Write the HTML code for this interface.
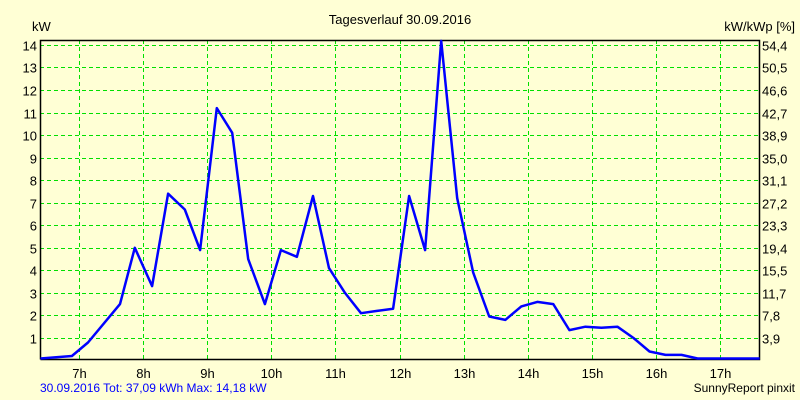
<!DOCTYPE html>
<html><head><meta charset="utf-8"><style>
body{margin:0;background:#ffffd5;}
svg{display:block;font-family:"Liberation Sans",sans-serif;}
</style></head><body>
<svg id="chart" width="800" height="400">
<rect x="0" y="0" width="800" height="400" fill="#ffffd5"/>
<text x="400" y="24" font-size="13" text-anchor="middle">Tagesverlauf 30.09.2016</text>
<text x="32" y="31" font-size="13">kW</text>
<text x="795" y="31" font-size="13" text-anchor="end">kW/kWp [%]</text>
<g id="grid"></g><g id="axes"></g><g id="series"></g>
<text x="40" y="392" font-size="12" fill="#0000ff">30.09.2016 Tot: 37,09 kWh Max: 14,18 kW</text>
<text x="795" y="392" font-size="12" text-anchor="end">SunnyReport pinxit</text>
</svg>
<script>
const times=[6.4,6.89,7.14,7.64,7.87,8.14,8.39,8.65,8.89,9.15,9.39,9.64,9.9,10.15,10.4,10.65,10.9,11.15,11.4,11.65,11.9,12.15,12.4,12.65,12.9,13.15,13.4,13.65,13.9,14.15,14.4,14.65,14.9,15.15,15.4,15.65,15.9,16.15,16.4,16.65,16.9,17.62];
const power=[0,0.2,0.8,2.5,5,3.3,7.4,6.7,4.9,11.2,10.1,4.5,2.5,4.9,4.6,7.3,4.1,3,2.1,2.2,2.3,7.3,4.9,14.18,7.2,3.9,1.95,1.8,2.4,2.6,2.5,1.35,1.5,1.45,1.5,1,0.4,0.25,0.25,0.05,0,0];
const leftTicks=[1,2,3,4,5,6,7,8,9,10,11,12,13,14];
const rightTickLabels=["3,9","7,8","11,7","15,5","19,4","23,3","27,2","31,1","35,0","38,9","42,7","46,6","50,5","54,4"];
const hourTicks=[7,8,9,10,11,12,13,14,15,16,17];
const NS="http://www.w3.org/2000/svg";
const L=40,R=759,T=40,B=359;
const xs=h=>79+(h-7)*64.1;
const ys=v=>360.5-v*22.54;
function mk(tag,attrs,parent,txt){const e=document.createElementNS(NS,tag);for(const k in attrs)e.setAttribute(k,attrs[k]);if(txt!==undefined)e.textContent=txt;parent.appendChild(e);return e;}
const grid=document.getElementById('grid'),axes=document.getElementById('axes'),series=document.getElementById('series');
leftTicks.forEach((v,i)=>{
 const y=Math.round(ys(v))+0.5;
 const g=mk('line',{x1:L,x2:R,y1:y,y2:y,stroke:'#00e000','stroke-dasharray':'4,3'},grid);
 
 
 const t=mk('text',{x:37,y:y+5,'font-size':13,'text-anchor':'end'},axes,String(v));
 
 
 const r=mk('text',{x:762,y:y+5,'font-size':13},axes,rightTickLabels[i]);
 
 
});
hourTicks.forEach(h=>{
 const x=Math.round(xs(h))+0.5;
 const g=mk('line',{x1:x,x2:x,y1:T,y2:B,stroke:'#00e000','stroke-dasharray':'4,3'},grid);
 
 
 const t=mk('text',{x:x,y:378,'font-size':13,'text-anchor':'middle'},axes,h+'h');
 
 
});
const frame=mk('path',{d:`M${L+0.5},${B+0.5}V${T+0.5}H${R+0.5}V${B+0.5}H${L+0.5}`,fill:'none',stroke:'#000','stroke-width':1.5},axes);


const pts=times.map((t,i)=>xs(t).toFixed(1)+','+Math.min(ys(power[i]),358.5).toFixed(1)).join(' ');
const line=mk('polyline',{points:pts,fill:'none',stroke:'#0000ff','stroke-width':2.5,'stroke-linejoin':'round'},series);


</script>
</body></html>
